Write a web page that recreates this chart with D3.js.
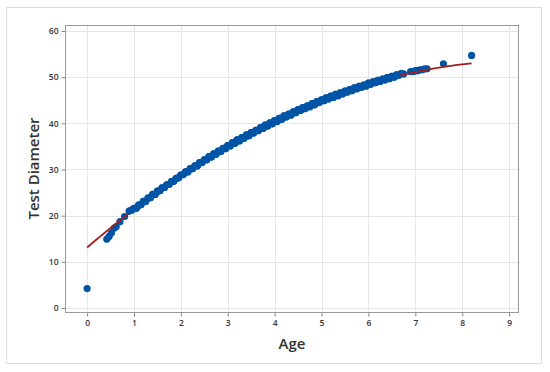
<!DOCTYPE html>
<html>
<head>
<meta charset="utf-8">
<script src="https://cdn.jsdelivr.net/npm/d3@7"></script>
<style>
  body { margin: 0; background: #fff; }
  svg text { font-family: "Open Sans", "Noto Sans", sans-serif; }
</style>
</head>
<body>
<svg id="chart" width="550" height="372"></svg>
<script>
// data
var ages = [0, 0.42, 0.47, 0.52, 0.58, 0.62, 0.70, 0.80,
    0.90, 0.95, 1.00, 1.05, 1.10, 1.15, 1.20, 1.25, 1.30, 1.35, 1.40, 1.45,
    1.50, 1.55, 1.60, 1.65, 1.70, 1.75, 1.80, 1.85, 1.90, 1.95,
    2.00, 2.05, 2.10, 2.15, 2.20, 2.25, 2.30, 2.35, 2.40, 2.45,
    2.50, 2.55, 2.60, 2.65, 2.70, 2.75, 2.80, 2.85, 2.90, 2.95,
    3.00, 3.05, 3.10, 3.15, 3.20, 3.25, 3.30, 3.35, 3.40, 3.45,
    3.50, 3.55, 3.60, 3.65, 3.70, 3.75, 3.80, 3.85, 3.90, 3.95,
    4.00, 4.05, 4.10, 4.15, 4.20, 4.25, 4.30, 4.35, 4.40, 4.45,
    4.50, 4.55, 4.60, 4.65, 4.70, 4.75, 4.80, 4.85, 4.90, 4.95,
    5.00, 5.05, 5.10, 5.15, 5.20, 5.25, 5.30, 5.35, 5.40, 5.45,
    5.50, 5.55, 5.60, 5.65, 5.70, 5.75, 5.80, 5.85, 5.90, 5.95,
    6.00, 6.05, 6.10, 6.15, 6.20, 6.25, 6.30, 6.35, 6.40, 6.45,
    6.50, 6.55, 6.60, 6.65, 6.70, 6.75, 6.90, 6.95, 7.00, 7.05,
    7.10, 7.15, 7.20, 7.25, 7.60, 8.20];
var diameters = [4.2, 14.9, 15.5, 16.3, 17.3, 17.6, 18.7, 19.8,
    21.0, 21.2, 21.6, 21.6, 22.3, 22.4, 23.1, 23.1, 23.8, 23.9, 24.6, 24.6,
    25.3, 25.4, 26.0, 26.1, 26.7, 26.8, 27.4, 27.5, 28.1, 28.2,
    28.8, 28.9, 29.5, 29.5, 30.2, 30.2, 30.8, 30.8, 31.5, 31.5,
    32.1, 32.1, 32.8, 32.7, 33.4, 33.3, 34.0, 33.9, 34.6, 34.5,
    35.2, 35.1, 35.8, 35.7, 36.4, 36.2, 36.9, 36.8, 37.5, 37.3,
    38.0, 37.9, 38.5, 38.4, 39.1, 38.9, 39.6, 39.4, 40.1, 39.9,
    40.6, 40.4, 41.1, 40.9, 41.6, 41.4, 42.0, 41.8, 42.5, 42.3,
    43.0, 42.8, 43.4, 43.2, 43.8, 43.6, 44.3, 44.0, 44.7, 44.5,
    45.1, 44.9, 45.5, 45.3, 45.9, 45.6, 46.3, 46.0, 46.6, 46.4,
    47.0, 46.8, 47.3, 47.1, 47.7, 47.5, 48.0, 47.8, 48.3, 48.1,
    48.7, 48.5, 49.0, 48.8, 49.3, 49.1, 49.6, 49.4, 49.9, 49.7,
    50.2, 50.0, 50.5, 50.4, 50.8, 50.7, 51.2, 51.2, 51.4, 51.4,
    51.6, 51.6, 51.8, 51.8, 52.9, 54.7];

// fitted regression line (quadratic)
var fitCoef = [13.1, 8.704, -0.468];
var fitRange = [0, 8.2];

var xTicks = [0, 1, 2, 3, 4, 5, 6, 7, 8, 9];
var yTicks = [0, 10, 20, 30, 40, 50, 60];

var svg = d3.select('#chart');

var plot = { left: 66, top: 25, right: 518, bottom: 312 };

var x = d3.scaleLinear().domain([-0.45, 9.19]).range([plot.left, plot.right]);
var y = d3.scaleLinear().domain([-0.87, 61.3]).range([plot.bottom, plot.top]);

// outer frame
svg.append('rect')
    .attr('x', 6.5).attr('y', 7.5)
    .attr('width', 535).attr('height', 356)
    .attr('fill', '#fff')
    .attr('stroke', '#dcdcdc');

// grid
var grid = svg.append('g');
grid.selectAll('.gx').data(xTicks).enter().append('line')
    .attr('x1', function (d) { return Math.round(x(d)) + 0.5; })
    .attr('x2', function (d) { return Math.round(x(d)) + 0.5; })
    .attr('y1', plot.top).attr('y2', plot.bottom)
    .attr('stroke', '#e6e6e6');
grid.selectAll('.gy').data(yTicks).enter().append('line')
    .attr('y1', function (d) { return Math.round(y(d)) + 0.5; })
    .attr('y2', function (d) { return Math.round(y(d)) + 0.5; })
    .attr('x1', plot.left).attr('x2', plot.right)
    .attr('stroke', '#e6e6e6');

// axes
var xAxis = svg.append('g')
    .attr('transform', 'translate(0,' + (plot.bottom + 0.5) + ')')
    .call(d3.axisBottom(x).tickValues(xTicks).tickSize(4).tickPadding(3));
var yAxis = svg.append('g')
    .attr('transform', 'translate(' + (plot.left - 0.5) + ',0)')
    .call(d3.axisLeft(y).tickValues(yTicks).tickSize(4).tickPadding(3));

[xAxis, yAxis].forEach(function (a) {
    a.select('.domain').remove();
    a.selectAll('line').attr('stroke', '#888');
    a.selectAll('text')
        .attr('fill', '#333')
        .style('font-size', '8.5px')
        .style('font-weight', '600');
});

// plot frame
svg.append('rect')
    .attr('x', plot.left - 0.5).attr('y', plot.top + 0.5)
    .attr('width', plot.right - plot.left + 1)
    .attr('height', plot.bottom - plot.top)
    .attr('fill', 'none')
    .attr('stroke', '#999');

var points = ages.map(function (a, i) { return [a, diameters[i]]; });

var drawPoints = function (g, data) {
    g.selectAll('circle')
        .data(data)
        .enter().append('circle')
        .attr('cx', function (d) { return x(d[0]); })
        .attr('cy', function (d) { return y(d[1]); })
        .attr('r', 3.6)
        .attr('fill', '#0054a6');
};

drawPoints(svg.append('g'), points);

// fit line
var fitX = d3.range(fitRange[0], fitRange[1] + 0.001, 0.05);
var fitLine = d3.line()
    .x(function (d) { return x(d); })
    .y(function (d) { return y(fitCoef[0] + fitCoef[1] * d + fitCoef[2] * d * d); });

svg.append('path')
    .datum(fitX)
    .attr('d', fitLine)
    .attr('fill', 'none')
    .attr('stroke', '#a51f1f')
    .attr('stroke-width', 1.8);

// the dense middle part of the cloud sits over the line
drawPoints(svg.append('g'), points.filter(function (d) { return d[0] >= 0.9 && d[0] <= 6.6; }));

// axis titles
svg.append('text')
    .attr('x', (plot.left + plot.right) / 2)
    .attr('y', 349)
    .attr('text-anchor', 'middle')
    .attr('fill', '#333')
    .style('font-size', '15px')
    .style('font-weight', '600')
    .text('Age');

svg.append('text')
    .attr('transform', 'translate(39,' + ((plot.top + plot.bottom) / 2) + ') rotate(-90)')
    .attr('text-anchor', 'middle')
    .attr('fill', '#333')
    .style('font-size', '15px')
    .style('font-weight', '600')
    .text('Test Diameter');
</script>
</body>
</html>
